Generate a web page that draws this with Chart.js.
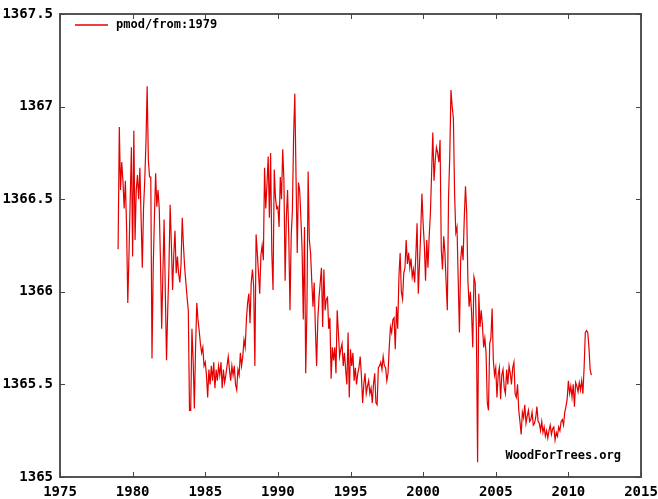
<!DOCTYPE html>
<html><head><meta charset="utf-8">
<script src="https://cdn.jsdelivr.net/npm/chart.js@4.4.0/dist/chart.umd.min.js"></script>
<style>html,body{margin:0;padding:0;background:#fff;}#wrap{width:658px;height:499px;}</style>
</head><body><div id="wrap"><canvas id="c" width="658" height="499"></canvas></div>
<script>
const seriesLabel = "pmod/from:1979";
const startYear = 1979;
const watermark = "WoodForTrees.org";
const xTicks = [1975,1980,1985,1990,1995,2000,2005,2010,2015];
const xTickLabels = ["1975","1980","1985","1990","1995","2000","2005","2010","2015"];
const yTicks = [1365,1365.5,1366,1366.5,1367,1367.5];
const yTickLabels = ["1365","1365.5","1366","1366.5","1367","1367.5"];
// monthly values, one row per year from 1979
const tsi = [
 1366.23,1366.89,1366.55,1366.70,1366.60,1366.45,1366.60,1366.35,1365.94,1366.20,1366.50,1366.78,
 1366.19,1366.87,1366.28,1366.55,1366.63,1366.50,1366.67,1366.40,1366.13,1366.45,1366.60,1366.80,
 1367.11,1366.71,1366.62,1366.62,1365.64,1366.13,1366.40,1366.64,1366.46,1366.55,1366.45,1366.17,
 1365.80,1366.10,1366.39,1366.00,1365.63,1365.90,1366.13,1366.47,1366.26,1366.01,1366.20,1366.33,
 1366.10,1366.19,1366.10,1366.05,1366.15,1366.40,1366.25,1366.13,1366.05,1365.97,1365.90,1365.36,
 1365.36,1365.80,1365.63,1365.37,1365.70,1365.94,1365.85,1365.79,1365.72,1365.67,1365.70,1365.60,
 1365.62,1365.55,1365.43,1365.58,1365.50,1365.60,1365.52,1365.62,1365.48,1365.58,1365.52,1365.60,
 1365.55,1365.62,1365.48,1365.58,1365.51,1365.55,1365.60,1365.65,1365.58,1365.52,1365.60,1365.55,
 1365.60,1365.50,1365.47,1365.58,1365.55,1365.67,1365.60,1365.65,1365.74,1365.70,1365.85,1365.94,
 1365.99,1365.83,1366.05,1366.12,1366.03,1365.60,1366.31,1366.21,1366.10,1365.99,1366.20,1366.25,
 1366.17,1366.67,1366.45,1366.58,1366.73,1366.40,1366.75,1366.21,1366.01,1366.66,1366.51,1366.45,
 1366.46,1366.35,1366.62,1366.50,1366.77,1366.60,1366.06,1366.40,1366.55,1366.30,1365.90,1366.30,
 1366.44,1366.84,1367.07,1366.62,1366.21,1366.59,1366.55,1366.40,1366.23,1365.85,1366.35,1365.56,
 1365.90,1366.65,1366.28,1366.21,1366.06,1365.92,1366.05,1365.80,1365.60,1365.85,1365.97,1366.05,
 1366.13,1365.81,1366.12,1365.90,1365.96,1365.97,1365.80,1365.86,1365.53,1365.70,1365.63,1365.70,
 1365.56,1365.90,1365.78,1365.65,1365.69,1365.72,1365.60,1365.67,1365.58,1365.50,1365.78,1365.43,
 1365.69,1365.60,1365.67,1365.52,1365.59,1365.50,1365.56,1365.59,1365.65,1365.55,1365.40,1365.50,
 1365.56,1365.45,1365.49,1365.52,1365.45,1365.48,1365.40,1365.50,1365.56,1365.40,1365.39,1365.59,
 1365.60,1365.62,1365.58,1365.65,1365.60,1365.59,1365.52,1365.56,1365.70,1365.81,1365.78,1365.85,
 1365.86,1365.69,1365.92,1365.80,1366.08,1366.21,1366.00,1365.96,1366.10,1366.13,1366.28,1366.15,
 1366.21,1366.13,1366.18,1366.08,1366.12,1366.05,1366.20,1366.37,1365.99,1366.15,1366.32,1366.53,
 1366.37,1366.25,1366.06,1366.28,1366.13,1366.30,1366.42,1366.64,1366.86,1366.60,1366.71,1366.78,
 1366.75,1366.70,1366.82,1366.23,1366.12,1366.30,1366.21,1366.05,1365.90,1366.51,1366.73,1367.09,
 1367.00,1366.94,1366.53,1366.32,1366.35,1366.06,1365.78,1366.17,1366.25,1366.17,1366.40,1366.57,
 1366.43,1366.06,1365.92,1366.00,1365.89,1365.70,1366.08,1366.05,1365.80,1365.08,1365.99,1365.81,
 1365.90,1365.82,1365.70,1365.75,1365.67,1365.40,1365.36,1365.72,1365.75,1365.91,1365.63,1365.55,
 1365.59,1365.43,1365.55,1365.59,1365.42,1365.55,1365.58,1365.48,1365.45,1365.58,1365.50,1365.60,
 1365.56,1365.50,1365.59,1365.62,1365.45,1365.43,1365.50,1365.36,1365.30,1365.23,1365.35,1365.32,
 1365.39,1365.29,1365.33,1365.36,1365.30,1365.31,1365.35,1365.28,1365.29,1365.32,1365.38,1365.30,
 1365.29,1365.25,1365.30,1365.24,1365.27,1365.22,1365.25,1365.21,1365.25,1365.28,1365.23,1365.26,
 1365.27,1365.20,1365.24,1365.22,1365.27,1365.25,1365.30,1365.31,1365.28,1365.35,1365.38,1365.42,
 1365.52,1365.45,1365.49,1365.43,1365.50,1365.38,1365.51,1365.49,1365.46,1365.51,1365.47,1365.52,
 1365.45,1365.59,1365.78,1365.79,1365.78,1365.70,1365.58,1365.55
];

const points = tsi.map((v,i)=>({x: startYear + i/12, y: v}));
const LINE = 'rgb(228,0,0)';
const AXIS = '#555';
const FONT = '"DejaVu Sans Mono", monospace';

const frame = {
  id:'frame',
  afterDraw(chart){
    const {ctx, chartArea:a, scales:{x,y}} = chart;
    ctx.save();
    ctx.strokeStyle = AXIS; ctx.lineWidth = 2;
    ctx.strokeRect(a.left, a.top, a.right-a.left, a.bottom-a.top);
    ctx.lineWidth = 1; ctx.strokeStyle = '#444';
    xTicks.forEach(t=>{
      const px = Math.round(x.getPixelForValue(t))+0.5;
      ctx.beginPath(); ctx.moveTo(px,a.bottom); ctx.lineTo(px,a.bottom-5); ctx.stroke();
      ctx.beginPath(); ctx.moveTo(px,a.top); ctx.lineTo(px,a.top+5); ctx.stroke();
    });
    yTicks.forEach(t=>{
      const py = Math.round(y.getPixelForValue(t))+0.5;
      ctx.beginPath(); ctx.moveTo(a.left,py); ctx.lineTo(a.left+5,py); ctx.stroke();
      ctx.beginPath(); ctx.moveTo(a.right,py); ctx.lineTo(a.right-5,py); ctx.stroke();
    });
    ctx.restore();
    // legend
    ctx.save();
    ctx.strokeStyle = LINE; ctx.lineWidth = 1.5;
    ctx.beginPath(); ctx.moveTo(a.left+15, a.top+11); ctx.lineTo(a.left+48, a.top+11); ctx.stroke();
    ctx.fillStyle = '#000';
    ctx.font = 'bold 12px ' + FONT;
    ctx.textBaseline = 'middle'; ctx.textAlign = 'left';
    ctx.fillText(chart.data.datasets[0].label, a.left+56, a.top+11);
    ctx.textAlign = 'right';
    ctx.fillText(watermark, a.right-20, a.bottom-21);
    ctx.restore();
  }
};

function noPad(s){ s.paddingLeft = 0; s.paddingRight = 0; s.paddingTop = 0; s.paddingBottom = 0; }

new Chart(document.getElementById('c'), {
  type:'line',
  data:{datasets:[{label:seriesLabel, data:points, borderColor:LINE, borderWidth:1.2, pointRadius:0, tension:0, fill:false}]},
  options:{
    responsive:false, animation:false, maintainAspectRatio:false,
    layout:{padding:{top:14, right:17, left:0, bottom:0}, autoPadding:false},
    plugins:{legend:{display:false}, tooltip:{enabled:false}},
    scales:{
      x:{type:'linear', min:1975, max:2015,
         afterBuildTicks(s){ s.ticks = xTicks.map(v=>({value:v})); },
         afterFit(s){ s.height = 22; noPad(s); },
         grid:{display:false, drawTicks:false}, border:{display:false},
         ticks:{padding:7, color:'#000', font:{family:FONT, size:14, weight:'bold'}, maxRotation:0, autoSkip:false,
                callback:(v)=>{const i=xTicks.indexOf(v); return i>=0?xTickLabels[i]:'';}}},
      y:{min:1365, max:1367.5,
         afterBuildTicks(s){ s.ticks = yTicks.map(v=>({value:v})); },
         afterFit(s){ s.width = 60; noPad(s); },
         grid:{display:false, drawTicks:false}, border:{display:false},
         ticks:{padding:7, color:'#000', font:{family:FONT, size:14, weight:'bold'}, autoSkip:false,
                callback:(v)=>{const i=yTicks.indexOf(v); return i>=0?yTickLabels[i]:'';}}}
    }
  },
  plugins:[frame]
});
</script></body></html>
